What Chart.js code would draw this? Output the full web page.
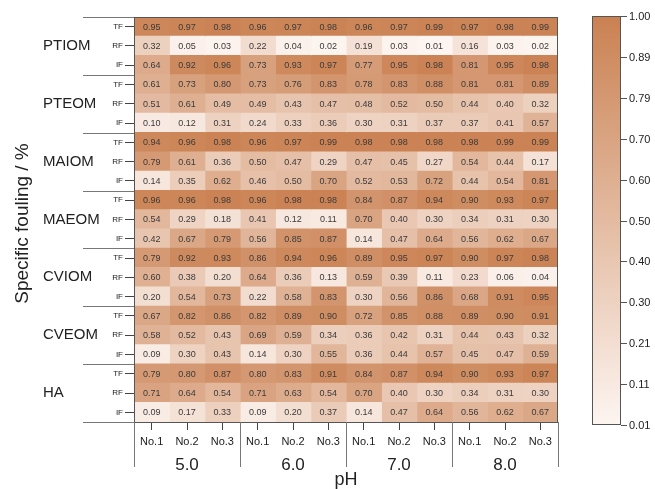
<!DOCTYPE html>
<html>
<head>
<meta charset="utf-8">
<script src="https://cdn.jsdelivr.net/npm/chart.js@4"></script>
<style>
  html, body { margin: 0; padding: 0; background: #fff; }
  #wrap { width: 655px; height: 489px; }
</style>
</head>
<body>
<div id="wrap"><canvas id="chart" width="655" height="489"></canvas></div>
<script>
// categories
const groupNames = ['PTIOM', 'PTEOM', 'MAIOM', 'MAEOM', 'CVIOM', 'CVEOM', 'HA'];
const fractions = ['TF', 'RF', 'IF'];
const phLevels = ['5.0', '6.0', '7.0', '8.0'];
const samples = ['No.1', 'No.2', 'No.3'];
const cbTicks = ['1.00', '0.89', '0.79', '0.70', '0.60', '0.50', '0.40', '0.30', '0.21', '0.11', '0.01'];

// values: rows TF, RF, IF ; columns pH 5.0 No.1..No.3, 6.0 ..., 7.0 ..., 8.0 ...
const PTIOM = [
    [0.95, 0.97, 0.98, 0.96, 0.97, 0.98, 0.96, 0.97, 0.99, 0.97, 0.98, 0.99],
    [0.32, 0.05, 0.03, 0.22, 0.04, 0.02, 0.19, 0.03, 0.01, 0.16, 0.03, 0.02],
    [0.64, 0.92, 0.96, 0.73, 0.93, 0.97, 0.77, 0.95, 0.98, 0.81, 0.95, 0.98]
];
const PTEOM = [
    [0.61, 0.73, 0.80, 0.73, 0.76, 0.83, 0.78, 0.83, 0.88, 0.81, 0.81, 0.89],
    [0.51, 0.61, 0.49, 0.49, 0.43, 0.47, 0.48, 0.52, 0.50, 0.44, 0.40, 0.32],
    [0.10, 0.12, 0.31, 0.24, 0.33, 0.36, 0.30, 0.31, 0.37, 0.37, 0.41, 0.57]
];
const MAIOM = [
    [0.94, 0.96, 0.98, 0.96, 0.97, 0.99, 0.98, 0.98, 0.98, 0.98, 0.99, 0.99],
    [0.79, 0.61, 0.36, 0.50, 0.47, 0.29, 0.47, 0.45, 0.27, 0.54, 0.44, 0.17],
    [0.14, 0.35, 0.62, 0.46, 0.50, 0.70, 0.52, 0.53, 0.72, 0.44, 0.54, 0.81]
];
const MAEOM = [
    [0.96, 0.96, 0.98, 0.96, 0.98, 0.98, 0.84, 0.87, 0.94, 0.90, 0.93, 0.97],
    [0.54, 0.29, 0.18, 0.41, 0.12, 0.11, 0.70, 0.40, 0.30, 0.34, 0.31, 0.30],
    [0.42, 0.67, 0.79, 0.56, 0.85, 0.87, 0.14, 0.47, 0.64, 0.56, 0.62, 0.67]
];
const CVIOM = [
    [0.79, 0.92, 0.93, 0.86, 0.94, 0.96, 0.89, 0.95, 0.97, 0.90, 0.97, 0.98],
    [0.60, 0.38, 0.20, 0.64, 0.36, 0.13, 0.59, 0.39, 0.11, 0.23, 0.06, 0.04],
    [0.20, 0.54, 0.73, 0.22, 0.58, 0.83, 0.30, 0.56, 0.86, 0.68, 0.91, 0.95]
];
const CVEOM = [
    [0.67, 0.82, 0.86, 0.82, 0.89, 0.90, 0.72, 0.85, 0.88, 0.89, 0.90, 0.91],
    [0.58, 0.52, 0.43, 0.69, 0.59, 0.34, 0.36, 0.42, 0.31, 0.44, 0.43, 0.32],
    [0.09, 0.30, 0.43, 0.14, 0.30, 0.55, 0.36, 0.44, 0.57, 0.45, 0.47, 0.59]
];
const HA = [
    [0.79, 0.80, 0.87, 0.80, 0.83, 0.91, 0.84, 0.87, 0.94, 0.90, 0.93, 0.97],
    [0.71, 0.64, 0.54, 0.71, 0.63, 0.54, 0.70, 0.40, 0.30, 0.34, 0.31, 0.30],
    [0.09, 0.17, 0.33, 0.09, 0.20, 0.37, 0.14, 0.47, 0.64, 0.56, 0.62, 0.67]
];

const groupValues = [PTIOM, PTEOM, MAIOM, MAEOM, CVIOM, CVEOM, HA];
const rowLabels = groupNames.flatMap(() => fractions);
const rowValues = groupValues.flat();
const colLabels = phLevels.flatMap(() => samples);

const FONT = 'Liberation Sans, Arial, Helvetica, sans-serif';
const lo = [253, 245, 241];
const hi = [202, 129, 82];

function heatColor(v) {
    let t = (v - 0.01) / 0.99;
    t = Math.max(0, Math.min(1, t));
    const c = lo.map((a, i) => Math.round(a + (hi[i] - a) * t));
    return 'rgb(' + c.join(',') + ')';
}

// one dataset per column, one floating bar per row
const datasets = colLabels.map((lab, c) => ({
    label: lab,
    data: rowValues.map((row, r) => ({ x: [c, c + 1], y: r, v: row[c] })),
    backgroundColor: rowValues.map(row => heatColor(row[c])),
    borderWidth: 0,
    inflateAmount: 0.6,
    grouped: false,
    barPercentage: 1,
    categoryPercentage: 1
}));

const extras = {
    id: 'extras',
    afterDatasetsDraw(chart) {
        const ctx = chart.ctx;
        const xs = chart.scales.x, ys = chart.scales.y;
        ctx.save();
        ctx.font = '9px ' + FONT;
        ctx.fillStyle = '#3a3a3a';
        ctx.textAlign = 'center';
        ctx.textBaseline = 'middle';
        chart.data.datasets.forEach((ds, c) => {
            ds.data.forEach((d, r) => {
                ctx.fillText(d.v.toFixed(2), xs.getPixelForValue(c + 0.5), ys.getPixelForValue(r) + 0.5);
            });
        });
        ctx.restore();
    },
    afterDraw(chart) {
        const ctx = chart.ctx;
        const a = chart.chartArea;
        const xs = chart.scales.x, ys = chart.scales.y;
        ctx.save();
        ctx.strokeStyle = '#555';
        ctx.lineWidth = 1;
        ctx.strokeRect(a.left + 0.5, a.top + 0.5, a.right - a.left - 1, a.bottom - a.top);

        // group separators and names on the left
        ctx.strokeStyle = '#777';
        for (let g = 0; g <= groupNames.length; g++) {
            let y;
            if (g === 0) y = a.top;
            else if (g === groupNames.length) y = a.bottom;
            else y = (ys.getPixelForValue(g * 3 - 1) + ys.getPixelForValue(g * 3)) / 2;
            y = Math.round(y) + 0.5;
            ctx.beginPath();
            ctx.moveTo(83, y);
            ctx.lineTo(a.left, y);
            ctx.stroke();
        }
        ctx.fillStyle = '#222';
        ctx.font = '15px ' + FONT;
        ctx.textAlign = 'left';
        ctx.textBaseline = 'middle';
        groupNames.forEach((n, g) => {
            ctx.fillText(n, 43, ys.getPixelForValue(g * 3 + 1));
        });

        // pH group lines and labels
        ctx.strokeStyle = '#777';
        for (let g = 0; g <= phLevels.length; g++) {
            const x = Math.round(xs.getPixelForValue(g * 3)) + 0.5;
            ctx.beginPath();
            ctx.moveTo(x, a.bottom);
            ctx.lineTo(x, 467);
            ctx.stroke();
        }
        ctx.font = '17px ' + FONT;
        ctx.textAlign = 'center';
        phLevels.forEach((p, g) => {
            ctx.fillText(p, xs.getPixelForValue(g * 3 + 1.5), 465);
        });
        ctx.font = '18px ' + FONT;
        ctx.fillText('pH', (a.left + a.right) / 2, 480);

        // y title
        ctx.save();
        ctx.translate(23, (a.top + a.bottom) / 2 + 4);
        ctx.rotate(-Math.PI / 2);
        ctx.font = '19px ' + FONT;
        ctx.fillText('Specific fouling / %', 0, 0);
        ctx.restore();

        // colour bar
        const cbL = 592, cbR = 621, cbT = 16, cbB = 425;
        const grad = ctx.createLinearGradient(0, cbB, 0, cbT);
        grad.addColorStop(0, heatColor(0.01));
        grad.addColorStop(1, heatColor(1.0));
        ctx.fillStyle = grad;
        ctx.fillRect(cbL, cbT, cbR - cbL, cbB - cbT);
        ctx.strokeStyle = '#555';
        ctx.strokeRect(cbL + 0.5, cbT + 0.5, cbR - cbL - 1, cbB - cbT - 1);
        ctx.font = '11px ' + FONT;
        ctx.fillStyle = '#222';
        ctx.textAlign = 'left';
        cbTicks.forEach((t, i) => {
            const y = Math.round(cbT + (cbB - cbT) * i / (cbTicks.length - 1)) + 0.5;
            ctx.beginPath();
            ctx.moveTo(cbR, y);
            ctx.lineTo(cbR + 6, y);
            ctx.stroke();
            ctx.fillText(t, cbR + 8, y);
        });
        ctx.restore();
    }
};

new Chart(document.getElementById('chart'), {
    type: 'bar',
    data: { labels: rowLabels, datasets: datasets },
    options: {
        indexAxis: 'y',
        responsive: false,
        animation: false,
        layout: { padding: { top: 17, right: 97, bottom: 0, left: 0 } },
        plugins: { legend: { display: false }, tooltip: { enabled: false } },
        scales: {
            x: {
                type: 'linear',
                min: 0,
                max: 12,
                afterBuildTicks: s => { s.ticks = colLabels.map((_, i) => ({ value: i + 0.5 })); },
                afterFit: s => { s.height = 67; },
                ticks: {
                    autoSkip: false,
                    maxRotation: 0,
                    padding: 5,
                    color: '#222',
                    font: { size: 11, family: FONT },
                    callback: v => colLabels[Math.floor(v)]
                },
                grid: { drawOnChartArea: false, tickLength: 8, color: '#444' },
                border: { display: true, color: '#555' }
            },
            y: {
                type: 'category',
                afterFit: s => { s.width = 134; },
                ticks: {
                    autoSkip: false,
                    padding: 2,
                    color: '#222',
                    font: { size: 8, family: FONT }
                },
                grid: { drawOnChartArea: false, offset: false, tickLength: 9, color: '#444' },
                border: { display: true, color: '#555' }
            }
        }
    },
    plugins: [extras]
});
</script>
</body>
</html>
